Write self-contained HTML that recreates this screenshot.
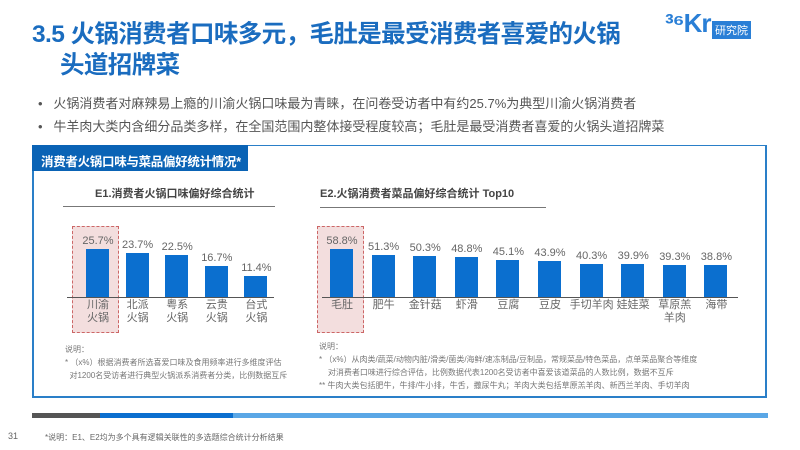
<!DOCTYPE html>
<html><head><meta charset="utf-8"><style>
*{margin:0;padding:0;box-sizing:border-box}
body{width:800px;height:450px;background:#fff;position:relative;overflow:hidden;font-family:"Liberation Sans","Noto Sans CJK SC",sans-serif;color:#555}
.a{position:absolute;white-space:nowrap}
.t{color:#1a6cbf;font-weight:bold;font-size:24.5px;letter-spacing:-0.6px}
.b{font-size:13px;color:#555}
.bar{position:absolute;background:#0b6fcf;width:23px}
.v{position:absolute;font-size:11px;color:#666;width:50px;text-align:center}
.c{position:absolute;font-size:11px;color:#666;width:50px;text-align:center;line-height:13px}
.n{font-size:8px;color:#777;line-height:13px}
.box{position:absolute;border:1px dashed #c66;background:#f3dede}
</style></head><body>
<div class="a t" style="left:32px;top:15px">3.5 火锅消费者口味多元，毛肚是最受消费者喜爱的火锅</div>
<div class="a t" style="left:60px;top:46px">头道招牌菜</div>
<div class="a" style="left:665px;top:8px;color:#2a7fd6;font-weight:bold;font-size:26px;letter-spacing:-1px">³⁶Kr</div>
<div class="a" style="left:712px;top:21px;background:#2a7fd6;color:#fff;font-size:11px;padding:1px 3px">研究院</div>
<div class="a b" style="left:38px;top:93px">•&nbsp;&nbsp;&nbsp;火锅消费者对麻辣易上瘾的川渝火锅口味最为青睐，在问卷受访者中有约25.7%为典型川渝火锅消费者</div>
<div class="a b" style="left:38px;top:116px">•&nbsp;&nbsp;&nbsp;牛羊肉大类内含细分品类多样，在全国范围内整体接受程度较高；毛肚是最受消费者喜爱的火锅头道招牌菜</div>
<div class="a" style="left:32px;top:145px;width:735px;height:253px;border:2px solid #2a7fc8;border-top:1px solid #2a7fc8"></div>
<div class="a" style="left:32px;top:145px;width:216px;height:26px;background:#0a63b5;color:#fff;font-weight:bold;font-size:12.5px;letter-spacing:-0.3px;padding:6px 0 0 9px">消费者火锅口味与菜品偏好统计情况*</div>
<div class="a" style="left:95px;top:185px;font-size:11px;font-weight:bold;color:#444">E1.消费者火锅口味偏好综合统计</div>
<div class="a" style="left:63px;top:206px;width:212px;height:1px;background:#777"></div>
<div class="a" style="left:320px;top:185px;font-size:11px;font-weight:bold;color:#444">E2.火锅消费者菜品偏好综合统计 Top10</div>
<div class="a" style="left:320px;top:207px;width:226px;height:1px;background:#777"></div>
<div class="box" style="left:72px;top:226px;width:47px;height:107px"></div>
<div class="box" style="left:317px;top:226px;width:47px;height:107px"></div>
<div class="a" style="left:67px;top:297px;width:207px;height:1px;background:#555"></div>
<div class="a" style="left:322px;top:297px;width:416px;height:1px;background:#555"></div>
<div id="e1"></div><div id="e2"></div>
<div class="a n" style="left:65px;top:343px">说明：<br>* （x%）根据消费者所选喜爱口味及食用频率进行多维度评估<br>&nbsp;&nbsp;对1200名受访者进行典型火锅派系消费者分类，比例数据互斥</div>
<div class="a n" style="left:319px;top:340px">说明：<br>* （x%）从肉类/蔬菜/动物内脏/滑类/菌类/海鲜/速冻制品/豆制品，常规菜品/特色菜品，点单菜品聚合等维度<br>&nbsp;&nbsp;&nbsp;&nbsp;对消费者口味进行综合评估，比例数据代表1200名受访者中喜爱该道菜品的人数比例，数据不互斥<br>** 牛肉大类包括肥牛，牛排/牛小排，牛舌，撒尿牛丸；羊肉大类包括草原羔羊肉、新西兰羊肉、手切羊肉</div>
<div class="a" style="left:32px;top:413px;width:68px;height:5px;background:#555"></div>
<div class="a" style="left:100px;top:413px;width:133px;height:5px;background:#0b6fcf"></div>
<div class="a" style="left:233px;top:413px;width:535px;height:5px;background:#5aa7e6"></div>
<div class="a" style="left:8px;top:431px;font-size:9px;color:#666">31</div>
<div class="a" style="left:45px;top:432px;font-size:8px;color:#666">*说明：E1、E2均为多个具有逻辑关联性的多选题综合统计分析结果</div>
<script>
function draw(id,x0,step,data,max){let h='';data.forEach((d,i)=>{const x=x0+i*step;const ht=d[0]/max*48;
h+=`<div class="bar" style="left:${x}px;top:${297-ht}px;height:${ht}px"></div>`+
`<div class="v" style="left:${x-13}px;top:${297-ht-14}px">${d[0].toFixed(1)}%</div>`+
`<div class="c" style="left:${x-13}px;top:299px">${d[1]}</div>`;});
document.getElementById(id).outerHTML=h;}
draw('e1',86,39.6,[[25.7,'川渝<br>火锅'],[23.7,'北派<br>火锅'],[22.5,'粤系<br>火锅'],[16.7,'云贵<br>火锅'],[11.4,'台式<br>火锅']],25.7);
draw('e2',330,41.6,[[58.8,'毛肚'],[51.3,'肥牛'],[50.3,'金针菇'],[48.8,'虾滑'],[45.1,'豆腐'],[43.9,'豆皮'],[40.3,'手切羊肉'],[39.9,'娃娃菜'],[39.3,'草原羔<br>羊肉'],[38.8,'海带']],58.8);
</script>
</body></html>
